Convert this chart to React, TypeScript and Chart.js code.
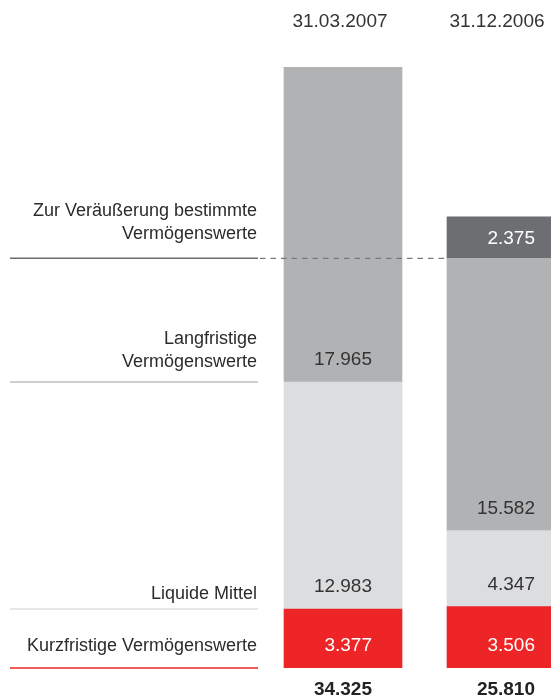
import React, { useEffect, useRef } from 'react';
import { Chart, registerables } from 'chart.js';

Chart.register(...registerables);

// ---- data ----
const periods = ['31.03.2007', '31.12.2006'];
const seriesNames = [
  'Kurzfristige Vermögenswerte',
  'Liquide Mittel',
  'Langfristige Vermögenswerte',
  'Zur Veräußerung bestimmte Vermögenswerte',
];
const rowLabelLines = [
  ['Kurzfristige Vermögenswerte'],
  ['Liquide Mittel'],
  ['Langfristige', 'Vermögenswerte'],
  ['Zur Veräußerung bestimmte', 'Vermögenswerte'],
];
const kurzfristige = [3377, 3506];
const liquideMittel = [12983, 4347];
const langfristige = [17965, 15582];
const zurVeraeusserung = [0, 2375];
const totals = [34325, 25810];

// ---- styles ----
const FONT = '"Liberation Sans", Arial, sans-serif';
const barColors = ['#ee2526', '#dcdddf', '#b1b2b4', '#6d6e71'];
const valueTextColors = ['#ffffff', '#333333', '#333333', '#ffffff'];
const rowLineColors = ['#ee2526', '#dedfe0', '#bdbebf', '#6d6e71'];
const rowRefColumn = [0, 0, 0, 1];
const rowTextOffset = [17, 10, 15, 19];
const headerOffset = [-3, -9];

const fmt = (n: number) => String(Math.round(n)).replace(/\B(?=(\d{3})+(?!\d))/g, '.');

const seriesValues = [kurzfristige, liquideMittel, langfristige, zurVeraeusserung];

const overlayPlugin = {
  id: 'overlay',
  afterDatasetsDraw(chart: any) {
    const ctx = chart.ctx as CanvasRenderingContext2D;
    ctx.save();
    ctx.textBaseline = 'alphabetic';

    // value labels inside segments
    seriesValues.forEach((vals, d) => {
      const meta = chart.getDatasetMeta(d);
      meta.data.forEach((bar: any, i: number) => {
        const v = vals[i];
        if (!v) return;
        const p = bar.getProps(['x', 'y', 'base', 'width'], true);
        const h = p.base - p.y;
        const baseline = p.base - Math.min(17, h / 2 - 6.5);
        ctx.font = `19px ${FONT}`;
        ctx.fillStyle = valueTextColors[d];
        ctx.textAlign = 'right';
        ctx.fillText(fmt(v), p.x + p.width / 2 - 30, baseline);
      });
    });

    // row labels and lines on the left
    const lineX0 = 10;
    const lineX1 = 258;
    rowLabelLines.forEach((lines, d) => {
      const meta = chart.getDatasetMeta(d);
      const ref = meta.data[rowRefColumn[d]].getProps(['base'], true);
      const ly = ref.base;
      ctx.strokeStyle = rowLineColors[d];
      ctx.lineWidth = 1.6;
      ctx.setLineDash([]);
      ctx.beginPath();
      ctx.moveTo(lineX0, ly);
      ctx.lineTo(lineX1, ly);
      ctx.stroke();

      ctx.font = `18px ${FONT}`;
      ctx.fillStyle = '#2b2b2b';
      ctx.textAlign = 'right';
      const last = ly - rowTextOffset[d];
      lines.forEach((t, k) => {
        ctx.fillText(t, 257, last - (lines.length - 1 - k) * 23);
      });

      if (rowRefColumn[d] === 1) {
        const rb = meta.data[1].getProps(['x', 'width'], true);
        ctx.strokeStyle = '#777879';
        ctx.lineWidth = 1.3;
        ctx.setLineDash([5.5, 5]);
        ctx.beginPath();
        ctx.moveTo(lineX1 + 2, ly);
        ctx.lineTo(rb.x - rb.width / 2, ly);
        ctx.stroke();
        ctx.setLineDash([]);
      }
    });

    // headers and totals
    const m0 = chart.getDatasetMeta(0);
    periods.forEach((label, i) => {
      const p = m0.data[i].getProps(['x', 'width'], true);
      ctx.font = `19px ${FONT}`;
      ctx.fillStyle = '#333333';
      ctx.textAlign = 'center';
      ctx.fillText(label, p.x + headerOffset[i], 27);

      ctx.font = `bold 19px ${FONT}`;
      ctx.fillStyle = '#222222';
      ctx.textAlign = 'right';
      ctx.fillText(fmt(totals[i]), p.x + p.width / 2 - 30, 695);
    });

    ctx.restore();
  },
};

export default function App() {
  const ref = useRef<HTMLCanvasElement | null>(null);

  useEffect(() => {
    if (!ref.current) return;
    const chart = new Chart(ref.current, {
      type: 'bar',
      data: {
        datasets: seriesValues.map((vals, d) => ({
          label: seriesNames[d],
          data: vals.map((v, i) => ({ x: i, y: v })),
          backgroundColor: barColors[d],
          borderWidth: 0,
          barThickness: 118,
        })),
      },
      options: {
        animation: false,
        responsive: true,
        maintainAspectRatio: false,
        layout: { padding: { left: 261.5, right: 0, top: 38.6, bottom: 29 } },
        plugins: {
          legend: { display: false },
          tooltip: { enabled: false },
        },
        scales: {
          x: {
            type: 'linear',
            stacked: true,
            offset: false,
            min: -0.5,
            max: -0.5 + 289.5 / 163,
            display: false,
          },
          y: {
            stacked: true,
            min: 0,
            max: 36000,
            display: false,
          },
        },
      },
      plugins: [overlayPlugin],
    } as any);
    return () => chart.destroy();
  }, []);

  return (
    <div style={{ position: 'absolute', left: 0, top: 0, width: 551, height: 697, background: '#fff' }}>
      <canvas ref={ref} />
    </div>
  );
}
